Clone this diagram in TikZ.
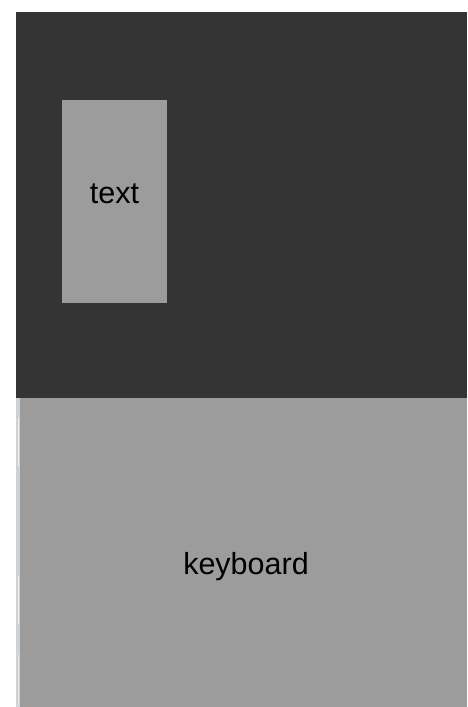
\documentclass[tikz,border=0pt]{standalone}
\usepackage{fontspec}
\setmainfont{Liberation Sans}
\definecolor{darkbg}{HTML}{343434}
\definecolor{panel}{HTML}{9C9C9C}
\definecolor{strip}{HTML}{CDD2D7}
\definecolor{stripmark}{HTML}{EEF0F2}
\begin{document}
\begin{tikzpicture}[x=1pt,y=-1pt,
  lbl/.style={font=\fontsize{30.5}{36}\selectfont, text=black, inner sep=0pt, anchor=base}]
\useasboundingbox (0,0) rectangle (467,707);
\fill[white] (0,0) rectangle (467,707);
% screen
\fill[darkbg] (16,12) rectangle (467,398);
% text field
\node[fill=panel, minimum width=105pt, minimum height=203pt, inner sep=0pt, anchor=north west] (field) at (62,100) {};
\node[lbl] (fieldlbl) at (114.5,203) {text};
% keyboard
\fill[strip] (16,398) rectangle (20,707);
\fill[panel] (20,398) rectangle (467,707);
\draw[stripmark, line width=1pt, line cap=round] (18.3,418) -- (18.3,466);
\draw[stripmark, line width=1pt, line cap=round] (18.3,576) -- (18.3,623);
\draw[stripmark!80!strip, line width=1pt, line cap=round] (18.3,655) -- (18.3,705);
\node[lbl] (kblbl) at (246,574) {keyboard};
\end{tikzpicture}
\end{document}
